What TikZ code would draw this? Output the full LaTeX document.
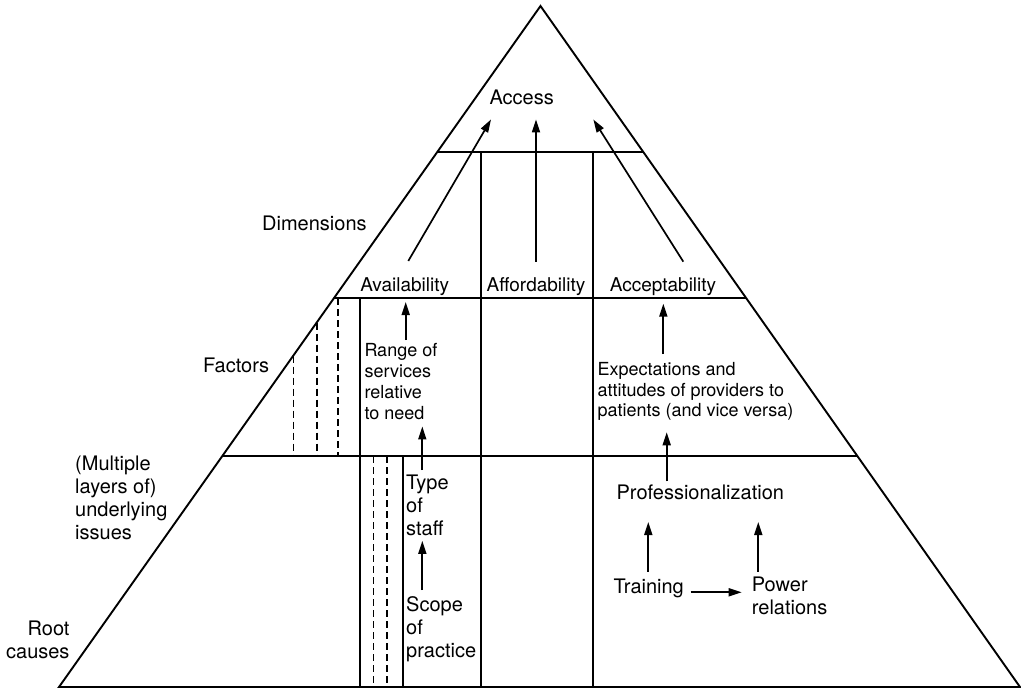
\documentclass[tikz,border=0pt]{standalone}
\usepackage{fontspec}
\setmainfont{TeX Gyre Heros}
\usetikzlibrary{arrows.meta,calc}
\begin{document}
\begin{tikzpicture}[x=1pt,y=-1pt,
  edge/.style={line width=1.9pt, line join=miter},
  dashedge/.style={line width=1.6pt, dash pattern=on 7pt off 4pt},
  arr/.style={line width=1.7pt, -{Triangle[length=13pt,width=8pt]}},
  lbl/.style={inner sep=0pt, font=\fontsize{20}{23}\selectfont},
  sm/.style={inner sep=0pt, font=\fontsize{18}{21}\selectfont},
  dimlbl/.style={inner sep=0pt, font=\fontsize{19}{22}\selectfont}]
\useasboundingbox (0,0) rectangle (1021,689);

% pyramid
\coordinate (apex) at (540.5,6);
\coordinate (bl) at (59,687);
\coordinate (br) at (1020,687);
\draw[edge] (bl) -- (apex) -- (br) -- cycle;

% horizontal bands
\draw[edge] ($(apex)!0.2144!(bl)$) -- ($(apex)!0.2144!(br)$);
\draw[edge] ($(apex)!0.4288!(bl)$) -- ($(apex)!0.4288!(br)$);
\draw[edge] ($(apex)!0.6608!(bl)$) -- ($(apex)!0.6608!(br)$);

% column lines
\draw[edge] (481,152) -- (481,687);
\draw[edge] (593,152) -- (593,687);
\draw[edge] (360,298) -- (360,687);
\draw[edge] (402.7,456) -- (402.7,687);
\draw[dashedge] (373.3,456) -- (373.3,687);
\draw[dashedge] (386.7,456) -- (386.7,687);
\draw[dashedge] (293.3,355.6) -- (293.3,456);
\draw[dashedge] (316.7,322.5) -- (316.7,456);
\draw[dashedge] (337.7,298) -- (337.7,456);

% labels
\node[lbl, anchor=center] (access) at (521.7,97) {Access};
\node[lbl, anchor=base west] (dim) at (262,230.5) {Dimensions};
\node[lbl, anchor=base west] (fac) at (203,372.2) {Factors};
\node[lbl, anchor=north west, align=left] (multi) at (75,456.2) {(Multiple\\layers of)\\underlying\\issues};
\node[lbl, anchor=north east, align=right] (root) at (69.7,620.6) {Root\\causes};
\node[dimlbl, anchor=base] (avail) at (404.7,291) {Availability};
\node[dimlbl, anchor=base] (afford) at (536,291) {Affordability};
\node[dimlbl, anchor=base] (accept) at (663,291) {Acceptability};
\node[sm, anchor=north west, align=left] (range) at (364.3,343.4) {Range of\\services\\relative\\to need};
\node[lbl, anchor=north west, align=left] (type) at (406,474.5) {Type\\of\\staff};
\node[lbl, anchor=north west, align=left] (scope) at (406,596) {Scope\\of\\practice};
\node[sm, anchor=north west, align=left, font=\fontsize{18}{20.5}\selectfont] (expect) at (597.3,362.4) {Expectations and\\attitudes of providers to\\patients (and vice versa)};
\node[lbl, anchor=base] (prof) at (700.3,499.5) {Professionalization};
\node[lbl, anchor=base west] (train) at (613.3,593.3) {Training};
\node[lbl, anchor=north west, align=left] (power) at (751.7,577) {Power\\relations};

% arrow guides
\coordinate (xr) at (405.7,0);
\coordinate (xt) at (422.3,0);
\coordinate (xe) at (663.3,0);
\coordinate (xp) at (666.7,0);
\coordinate (xtr) at (648.3,0);
\coordinate (xpw) at (758.3,0);
\coordinate (yt) at (0,592.3);

% arrows to Access
\draw[arr] ($(avail.north)+(3.6,-16)$) -- ($(access.south)+(-30.7,14.8)$);
\draw[arr] ($(afford.north)+(0,-15.3)$) -- ($(access.south)+(14.3,14.8)$);
\draw[arr] ($(accept.north)+(20.3,-15.3)$) -- ($(access.south)+(71.6,14.8)$);

% vertical arrows
\draw[arr, shorten <=3.4pt, shorten >=6.7pt] (range.north -| xr) -- (avail.south -| xr);
\draw[arr, shorten <=4.5pt, shorten >=6.2pt] (type.north -| xt) -- (range.south -| xt);
\draw[arr, shorten <=6pt, shorten >=5.1pt] (scope.north -| xt) -- (type.south -| xt);
\draw[arr, shorten <=8.4pt, shorten >=8.3pt] (expect.north -| xe) -- (accept.south -| xe);
\draw[arr, shorten <=3.3pt, shorten >=11.4pt] (prof.north -| xp) -- (expect.south -| xp);
\draw[arr, shorten <=7pt, shorten >=22pt] (train.north -| xtr) -- (prof.south -| xtr);
\draw[arr, shorten <=5.3pt, shorten >=22pt] (power.north -| xpw) -- (prof.south -| xpw);
\draw[arr, shorten <=6.7pt, shorten >=10pt] (train.east |- yt) -- (power.west |- yt);
\end{tikzpicture}
\end{document}
